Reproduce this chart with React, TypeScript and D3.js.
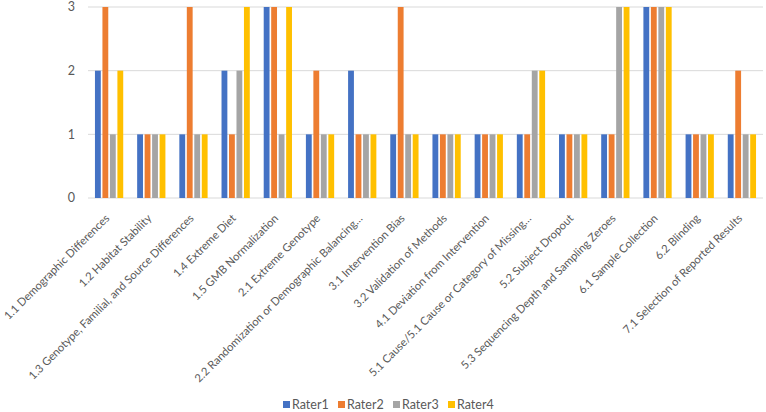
import React from "react";
import * as d3 from "d3";

const categories = [
  "1.1 Demographic Differences",
  "1.2 Habitat Stability",
  "1.3 Genotype, Familial, and Source Differences",
  "1.4 Extreme Diet",
  "1.5 GMB Normalization",
  "2.1 Extreme Genotype",
  "2.2 Randomization or Demographic Balancing…",
  "3.1 Intervention Bias",
  "3.2 Validation of Methods",
  "4.1 Deviation from Intervention",
  "5.1 Cause/5.1 Cause or Category of Missing…",
  "5.2 Subject Dropout",
  "5.3 Sequencing Depth and Sampling Zeroes",
  "6.1 Sample Collection",
  "6.2 Blinding",
  "7.1 Selection of Reported Results",
];
const seriesNames = ["Rater1", "Rater2", "Rater3", "Rater4"];
const rater1 = [2, 1, 1, 2, 3, 1, 2, 1, 1, 1, 1, 1, 1, 3, 1, 1];
const rater2 = [3, 1, 3, 1, 3, 2, 1, 3, 1, 1, 1, 1, 1, 3, 1, 2];
const rater3 = [1, 1, 1, 2, 1, 1, 1, 1, 1, 1, 2, 1, 3, 3, 1, 1];
const rater4 = [2, 1, 1, 3, 3, 1, 1, 1, 1, 1, 2, 1, 3, 3, 1, 1];
const yTicks = [0, 1, 2, 3];
const colors = ["#4472C4", "#ED7D31", "#A5A5A5", "#FFC000"];

const W = 766;
const H = 412;
const FONT = "Lato, 'Open Sans', sans-serif";

export default function App() {
  const series = [rater1, rater2, rater3, rater4];
  const x0 = d3.scaleBand<string>().domain(categories).range([88, 763]).paddingInner(0.33).paddingOuter(0.165);
  const x1 = d3.scaleBand<string>().domain(seriesNames).range([0, x0.bandwidth()]).paddingInner(0.22);
  const y = d3.scaleLinear().domain([0, 3]).range([198, 7]);
  const xc = d3.scaleBand<string>().domain(categories).range([88, 763]);

  return (
    <>
      <style>{"body{margin:0}"}</style>
      <svg width={W} height={H} style={{ display: "block", fontFamily: FONT }}>
        <rect width={W} height={H} fill="#fff" />
        {yTicks.map((t) => (
          <g key={t}>
            <line x1={88} x2={763} y1={y(t)} y2={y(t)} stroke="#D9D9D9" strokeWidth={1} />
            <text x={75} y={y(t)} dy="0.35em" textAnchor="end" fontSize={12.5} fill="#595959">
              {t}
            </text>
          </g>
        ))}
        {categories.map((c, i) => (
          <g key={c} transform={`translate(${x0(c)},0)`}>
            {seriesNames.map((s, j) => (
              <rect
                key={s}
                x={x1(s)}
                y={y(series[j][i])}
                width={x1.bandwidth()}
                height={y(0) - y(series[j][i])}
                fill={colors[j]}
              />
            ))}
          </g>
        ))}
        {categories.map((c) => {
          const cx = (xc(c) as number) + xc.bandwidth() / 2 + 1;
          const cy = 219;
          return (
            <text
              key={c}
              x={cx}
              y={cy}
              transform={`rotate(-45 ${cx} ${cy})`}
              textAnchor="end"
              fontSize={11.2}
              fill="#595959"
            >
              {c}
            </text>
          );
        })}
        {seriesNames.map((s, j) => {
          const lx = 283 + j * 55;
          return (
            <g key={s}>
              <rect x={lx} y={401} width={7} height={7} fill={colors[j]} />
              <text x={lx + 9} y={405} dy="0.35em" fontSize={12.5} fill="#595959">
                {s}
              </text>
            </g>
          );
        })}
      </svg>
    </>
  );
}
